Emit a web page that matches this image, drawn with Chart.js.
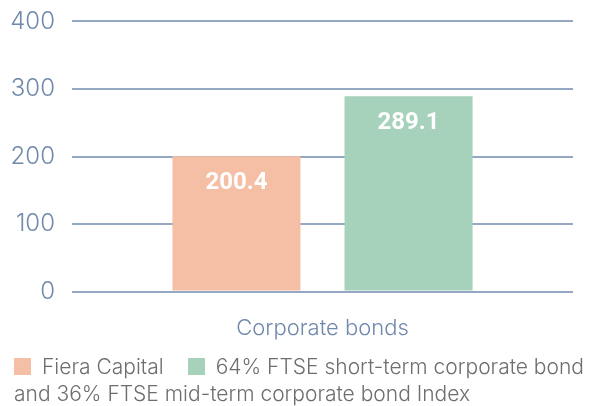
<!DOCTYPE html>
<html lang="en">
<head>
<meta charset="UTF-8">
<title>Corporate bonds</title>
<script src="https://cdn.jsdelivr.net/npm/chart.js"></script>
<style>
  html, body { margin: 0; padding: 0; background: #fff; overflow: hidden; }
  #wrap { position: relative; width: 601px; height: 406px; overflow: hidden; }
  #box { position: absolute; left: 0; top: -10px; width: 601px; height: 368px; }
  #legend {
    position: absolute; left: 14px; top: 353px; width: 585px;
    font-family: Inter, "Open Sans", sans-serif; font-weight: 300;
    font-size: 21px; line-height: 27px; color: #6e6e6e;
  }
  .sw { display: inline-block; width: 17px; height: 17px; margin-right: 11px; vertical-align: -1px; }
</style>
</head>
<body>
<div id="wrap">
  <div id="box"><canvas id="chart"></canvas></div>
  <div id="legend"></div>
</div>
<script>
  const categories = ['Corporate bonds'];
  const seriesNames = ['Fiera Capital', '64% FTSE short-term corporate bond and 36% FTSE mid-term corporate bond Index'];
  const fieraValues = [200.4];
  const indexValues = [289.1];
  const yTicks = [0, 100, 200, 300, 400];

  const colors = ['#f4bfa4', '#a6d1bb'];

  // white value labels inside the top of each bar
  const valueLabels = {
    id: 'valueLabels',
    afterDatasetsDraw(chart) {
      const ctx = chart.ctx;
      ctx.save();
      ctx.fillStyle = '#ffffff';
      ctx.font = 'bold 24px Roboto, sans-serif';
      ctx.textAlign = 'center';
      ctx.textBaseline = 'middle';
      chart.data.datasets.forEach((ds, i) => {
        chart.getDatasetMeta(i).data.forEach((bar, j) => {
          ctx.fillText(ds.data[j].toFixed(1), bar.x, bar.y + 27);
        });
      });
      ctx.restore();
    }
  };

  new Chart(document.getElementById('chart'), {
    type: 'bar',
    data: {
      labels: categories,
      datasets: [
        { label: seriesNames[0], data: fieraValues, backgroundColor: colors[0] },
        { label: seriesNames[1], data: indexValues, backgroundColor: colors[1] }
      ]
    },
    options: {
      responsive: true,
      maintainAspectRatio: false,
      animation: false,
      layout: { padding: { top: 2, right: 28, left: 0, bottom: 0 } },
      plugins: { legend: { display: false }, tooltip: { enabled: false } },
      datasets: { bar: { categoryPercentage: 0.687, barPercentage: 0.744 } },
      scales: {
        x: {
          grid: { display: false },
          border: { display: false },
          ticks: {
            color: '#7089ab', padding: 16,
            font: { family: 'Inter, sans-serif', size: 22, weight: 300 }
          }
        },
        y: {
          min: 0, max: 400,
          afterBuildTicks: axis => { axis.ticks = yTicks.map(v => ({ value: v })); },
          afterFit: axis => { axis.width = 72; },
          grid: { color: '#94a7c3', lineWidth: 2, drawTicks: false },
          border: { display: false },
          ticks: {
            color: '#7089ab', padding: 17,
            font: { family: 'Inter, sans-serif', size: 24, weight: 300 }
          }
        }
      }
    },
    plugins: [valueLabels]
  });

  document.getElementById('legend').innerHTML = seriesNames.map((n, i) =>
    '<span class="sw" style="background:' + colors[i] + '"></span>' + n
  ).join('<span style="display:inline-block;width:24px"></span>');
</script>
</body>
</html>
